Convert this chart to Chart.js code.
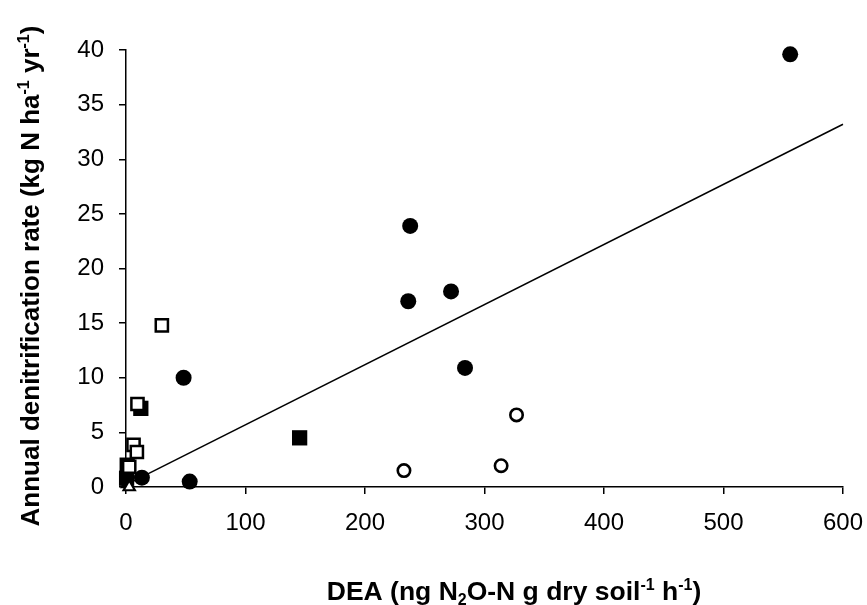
<!DOCTYPE html>
<html>
<head>
<meta charset="utf-8">
<script src="https://cdn.jsdelivr.net/npm/chart.js@4/dist/chart.umd.min.js"></script>
<style>
  html, body { margin: 0; padding: 0; background: #fff; }
  #wrap { width: 867px; height: 605px; }
</style>
</head>
<body>
<div id="wrap"><canvas id="dea"></canvas></div>
<script>
// DEA vs annual denitrification - scatter with regression line
const xTicks = [0, 100, 200, 300, 400, 500, 600];
const yTicks = [0, 5, 10, 15, 20, 25, 30, 35, 40];

// x = DEA, y = annual rate
const filledCircles = [[555.8, 39.6], [237.8, 23.9], [236.2, 17.0], [272, 17.9], [283.7, 10.9],
  [48.2, 10.0], [13.3, 0.85], [53.3, 0.5]];
const openCircles = [[232.6, 1.5], [313.9, 1.95], [326.8, 6.6]];
const filledSquares = [[145.3, 4.5], [12.4, 7.2], [1, 2.0], [0.5, 0.8]];
const openSquares = [[30, 14.8], [9.6, 7.6], [6.3, 3.85], [9.1, 3.2], [2.7, 1.85]];
const openTriangles = [[2.7, 0.0]];
const filledTriangles = [[0, 0.2]];
const fitLine = [[0, 0.2], [600, 33.2]];

const pts = arr => arr.map(p => ({ x: p[0], y: p[1] }));
const FONT = "'Liberation Sans', Arial, sans-serif";

// draws text with sub/superscripts (canvas has no rich text)
function richText(ctx, parts, size) {
  const small = Math.round(size * 0.6);
  let w = 0;
  parts.forEach(p => {
    ctx.font = 'bold ' + (p[1] ? small : size) + 'px ' + FONT;
    p.w = ctx.measureText(p[0]).width;
    w += p.w;
  });
  let x = -w / 2;
  parts.forEach(p => {
    ctx.font = 'bold ' + (p[1] ? small : size) + 'px ' + FONT;
    let dy = 0;
    if (p[1] === 'sup') dy = -size * 0.38;
    if (p[1] === 'sub') dy = size * 0.2;
    ctx.fillText(p[0], x, dy);
    x += p.w;
  });
}

const axisTitles = {
  id: 'axisTitles',
  afterDraw(chart) {
    const ctx = chart.ctx;
    ctx.save();
    ctx.fillStyle = '#000';
    ctx.textAlign = 'left';
    ctx.textBaseline = 'alphabetic';
    ctx.translate(514, 600);
    richText(ctx, [['DEA (ng N'], ['2', 'sub'], ['O-N g dry soil'], ['-1', 'sup'], [' h'], ['-1', 'sup'], [')']], 26.5);
    ctx.restore();

    ctx.save();
    ctx.fillStyle = '#000';
    ctx.textAlign = 'left';
    ctx.textBaseline = 'alphabetic';
    ctx.translate(39, 276);
    ctx.rotate(-Math.PI / 2);
    richText(ctx, [['Annual denitrification rate (kg N ha'], ['-1', 'sup'], [' yr'], ['-1', 'sup'], [')']], 26);
    ctx.restore();
  }
};

const axisStyle = {
  border: { color: '#000', width: 1.5 },
  grid: { display: true, drawOnChartArea: false, drawTicks: true, tickLength: 7, color: '#000', lineWidth: 1.5 },
};

new Chart(document.getElementById('dea'), {
  type: 'scatter',
  data: {
    datasets: [
      { data: pts(openSquares), pointStyle: 'rect', pointRadius: 8.6, borderWidth: 2.5,
        backgroundColor: '#fff', borderColor: '#000', order: 1 },
      { data: pts(filledSquares), pointStyle: 'rect', pointRadius: 10.8, borderWidth: 0,
        backgroundColor: '#000', borderColor: '#000', order: 2 },
      { data: pts(filledCircles), pointStyle: 'circle', pointRadius: 8, borderWidth: 0,
        backgroundColor: '#000', borderColor: '#000', order: 3 },
      { data: pts(openCircles), pointStyle: 'circle', pointRadius: 6.2, borderWidth: 2.6,
        backgroundColor: '#fff', borderColor: '#000', order: 4 },
      { data: pts(openTriangles), pointStyle: 'triangle', pointRadius: 6.5, borderWidth: 2.2,
        backgroundColor: '#fff', borderColor: '#000', order: 0 },
      { data: pts(filledTriangles), pointStyle: 'triangle', pointRadius: 7, borderWidth: 0,
        backgroundColor: '#000', borderColor: '#000', order: 5 },
      { type: 'line', data: pts(fitLine), borderColor: '#000', borderWidth: 1.5,
        pointRadius: 0, fill: false, order: 10 }
    ].map(d => Object.assign({ clip: false }, d))
  },
  options: {
    responsive: true,
    maintainAspectRatio: false,
    animation: false,
    events: [],
    layout: { padding: { left: 0, top: 50, right: 24, bottom: 0 } },
    plugins: { legend: { display: false }, tooltip: { enabled: false } },
    scales: {
      x: Object.assign({
        type: 'linear', min: 0, max: 600,
        afterBuildTicks: s => { s.ticks = xTicks.map(v => ({ value: v })); },
        afterFit: s => { s.height = 118; s.paddingLeft = 0; s.paddingRight = 0; },
        ticks: { color: '#000', padding: 15, font: { family: FONT, size: 24 } }
      }, axisStyle),
      y: Object.assign({
        type: 'linear', min: 0, max: 40,
        afterBuildTicks: s => { s.ticks = yTicks.map(v => ({ value: v })); },
        afterFit: s => { s.width = 126; s.paddingTop = 0; s.paddingBottom = 0; },
        ticks: { color: '#000', padding: 15, font: { family: FONT, size: 24 } }
      }, axisStyle)
    }
  },
  plugins: [axisTitles]
});
</script>
</body>
</html>
